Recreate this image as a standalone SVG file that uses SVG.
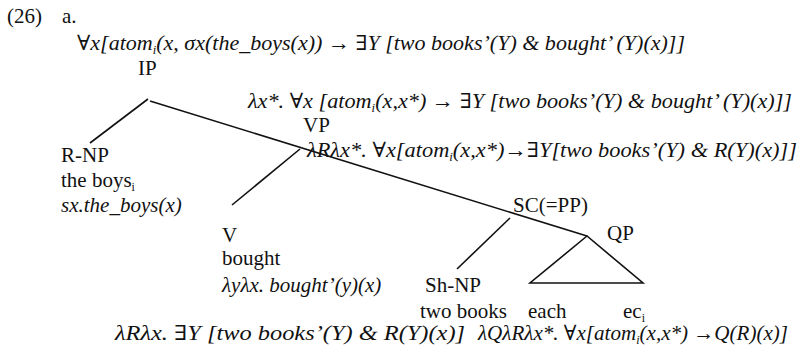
<svg xmlns="http://www.w3.org/2000/svg" width="805" height="350" viewBox="0 0 805 350">
<style>
text{font-family:"Liberation Serif","DejaVu Serif",serif;font-size:21px;fill:#111}
.f{font-style:italic}
.s{font-size:12px}
.c{stroke:#111;stroke-width:1.6;fill:none}
</style>
<rect width="805" height="350" fill="#fff"/>
<g id="label">
<text x="7" y="23">(26)</text>
<text x="62" y="23">a.</text>
</g>
<g id="connectors">
<line class="c" x1="148" y1="99" x2="90" y2="143"/>
<line class="c" x1="150" y1="101" x2="587" y2="236"/>
<line class="c" x1="300" y1="149" x2="232" y2="205"/>
<line class="c" x1="510" y1="218" x2="457" y2="269"/>
<polygon class="c" points="587,236 530,283 643,283"/>
</g>
<g id="IP">
<text x="77" y="50" class="f" textLength="608" lengthAdjust="spacingAndGlyphs">∀x[atom<tspan class="s" dy="4">i</tspan><tspan dy="-4">(x, σx(the_boys(x)) → ∃Y [two books’(Y) &amp; bought’ (Y)(x)]]</tspan></text>
<text x="138" y="75">IP</text>
</g>
<g id="VP">
<text x="248" y="108" class="f" textLength="544" lengthAdjust="spacingAndGlyphs">λx*. ∀x [atom<tspan class="s" dy="4">i</tspan><tspan dy="-4">(x,x*) → ∃Y [two books’(Y) &amp; bought’ (Y)(x)]]</tspan></text>
<text x="303" y="132">VP</text>
</g>
<g id="V-bar">
<text x="307" y="157" class="f" textLength="490" lengthAdjust="spacingAndGlyphs">λRλx*. ∀x[atom<tspan class="s" dy="4">i</tspan><tspan dy="-4">(x,x*)→∃Y[two books’(Y) &amp; R(Y)(x)]]</tspan></text>
</g>
<g id="R-NP">
<text x="61" y="162">R-NP</text>
<text x="61" y="187">the boys<tspan class="s" dy="4">i</tspan></text>
<text x="61" y="212" class="f">sx.the_boys(x)</text>
</g>
<g id="SC">
<text x="513" y="212">SC(=PP)</text>
</g>
<g id="QP">
<text x="607" y="240">QP</text>
<text x="528" y="318">each</text>
<text x="623" y="318">ec<tspan class="s" dy="4">i</tspan></text>
<text x="478" y="340" class="f" textLength="310" lengthAdjust="spacingAndGlyphs">λQλRλx*. ∀x[atom<tspan class="s" dy="4">i</tspan><tspan dy="-4">(x,x*) →Q(R)(x)]</tspan></text>
</g>
<g id="V">
<text x="222" y="242">V</text>
<text x="222" y="265">bought</text>
<text x="222" y="292" class="f">λyλx. bought’(y)(x)</text>
</g>
<g id="Sh-NP">
<text x="425" y="292">Sh-NP</text>
<text x="420" y="318">two books</text>
<text x="115" y="340" class="f" textLength="350" lengthAdjust="spacingAndGlyphs">λRλx. ∃Y [two books’(Y) &amp; R(Y)(x)]</text>
</g>
</svg>
